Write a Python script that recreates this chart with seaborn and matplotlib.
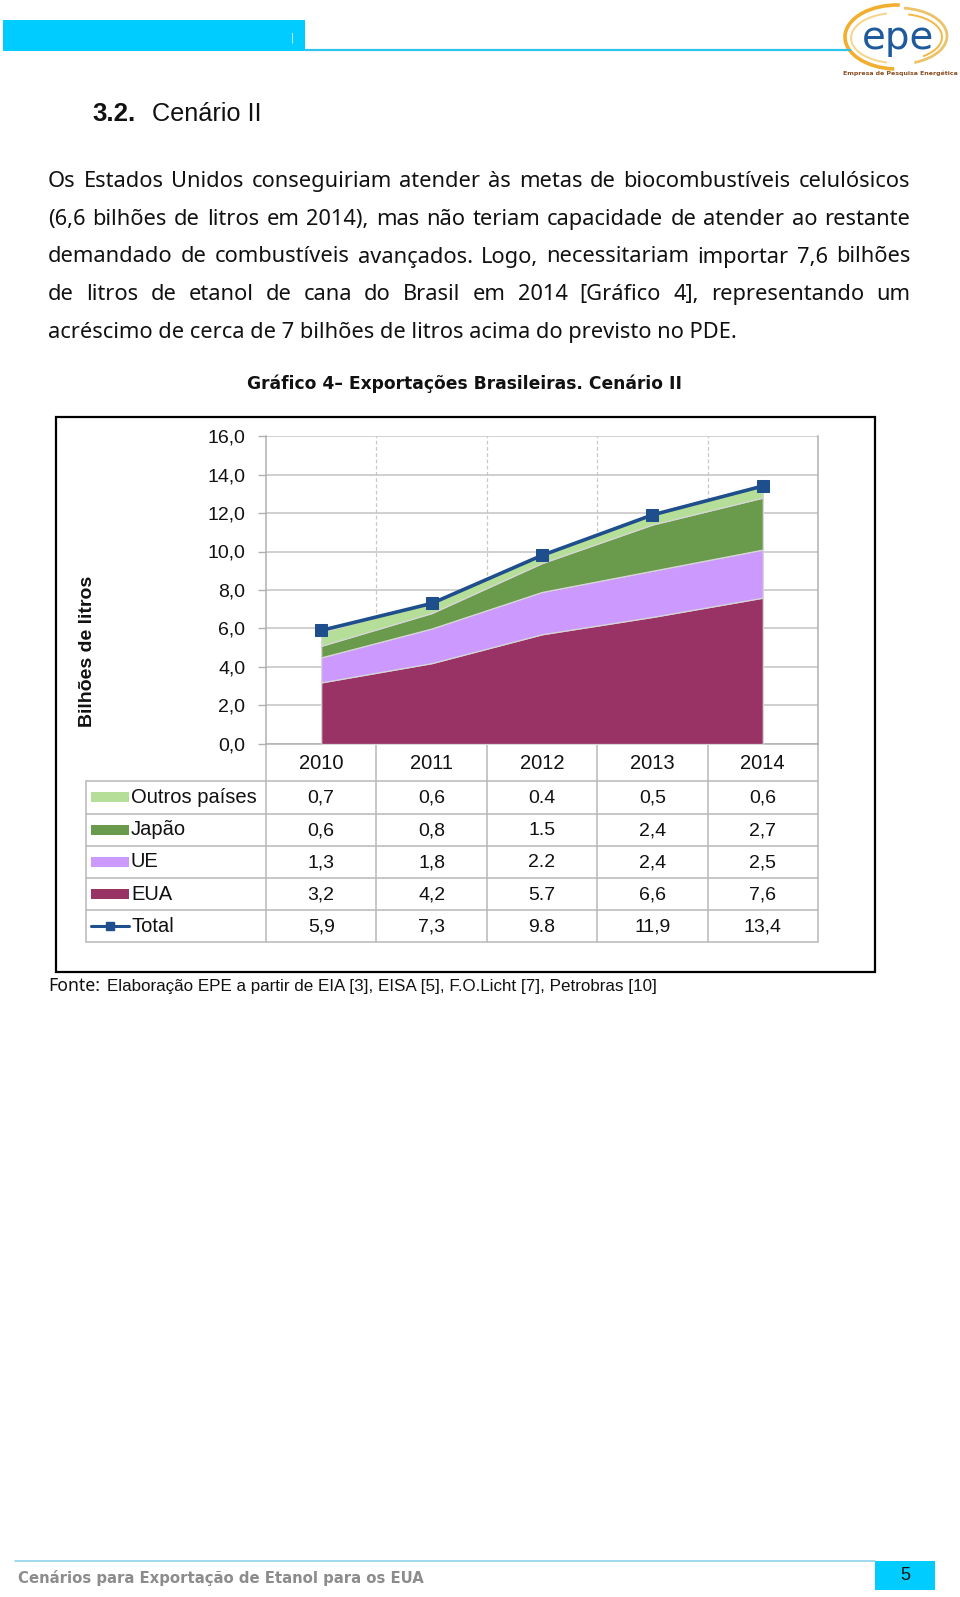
import matplotlib
matplotlib.use("Agg")
import matplotlib.pyplot as plt
import matplotlib.transforms as mtransforms
from matplotlib.patches import Rectangle, Arc
from matplotlib.lines import Line2D
import numpy as np
import pandas as pd
import seaborn as sns

# ---------------- data ----------------
years = ["2010", "2011", "2012", "2013", "2014"]
eua = [3.2, 4.2, 5.7, 6.6, 7.6]
ue = [1.3, 1.8, 2.2, 2.4, 2.5]
japao = [0.6, 0.8, 1.5, 2.4, 2.7]
outros = [0.7, 0.6, 0.4, 0.5, 0.6]
total = [5.9, 7.3, 9.8, 11.9, 13.4]
series_names = ["Outros países", "Japão", "UE", "EUA", "Total"]
decimal_sep = [",", ",", ".", ",", ","]   # as printed in the table columns
yticks = [0, 2, 4, 6, 8, 10, 12, 14, 16]
ytick_labels = ["0,0", "2,0", "4,0", "6,0", "8,0", "10,0", "12,0", "14,0", "16,0"]

col_eua = "#993366"
col_ue = "#CC99FF"
col_jap = "#6A9A4C"
col_out = "#B5DF98"
col_tot = "#1F4E8C"

sns.set_theme(style="white")
plt.rcParams["font.family"] = ["DejaVu Sans"]

W, H = 960, 1597
fig = plt.figure(figsize=(W / 100, H / 100), dpi=100)
fig.patch.set_facecolor("white")

bg = fig.add_axes([0, 0, 1, 1])
bg.set_xlim(0, W)
bg.set_ylim(H, 0)
bg.axis("off")
bg.set_zorder(0)

r = fig.canvas.get_renderer()
narrow = ["Liberation Sans Narrow", "Liberation Sans", "DejaVu Sans"]
doc_font = ["Noto Sans", "DejaVu Sans"]


def fit_text(x, y, s, width, size0=12, **kw):
    t = bg.text(x, y, s, fontsize=size0, **kw)
    w = t.get_window_extent(r).width
    t.set_fontsize(size0 * width / w)
    return t


# ---------------- header ----------------
bg.add_patch(Rectangle((3, 20), 302, 31, color="#00CCFF", lw=0))
bg.plot([305, 850], [49.5, 49.5], color="#2EC5EC", lw=1.6)
bg.text(292, 38, "|", color="white", fontsize=7, ha="center", va="center")

# logo
bg.add_patch(Arc((897, 37), 104, 64, theta1=95, theta2=275, color="#F2AE2E", lw=2.6))
bg.add_patch(Arc((899, 36), 96, 56, theta1=280, theta2=420, color="#EBC36A", lw=2.0))
bg.add_patch(Arc((896, 38), 90, 50, theta1=110, theta2=250, color="#F6D48A", lw=1.4))
bg.add_patch(Arc((900, 37), 84, 46, theta1=-70, theta2=40, color="#F3B845", lw=1.4))
fit_text(862, 38, "epe", 72, color="#1E5A9C", ha="left", va="center",
         family=["DejaVu Sans"])
fit_text(843, 73, "Empresa de Pesquisa Energética", 114, color="#8A4E22",
         ha="left", va="center", fontweight="bold")

# section heading
fit_text(92, 114, "3.2.", 43, color="#111111", ha="left", va="center",
         fontweight="bold", family=narrow)
fit_text(152, 114, "Cenário II", 110, color="#111111", ha="left", va="center",
         family=narrow)

# ---------------- paragraph (justified) ----------------
para_lines = [
    "Os Estados Unidos conseguiriam atender às metas de biocombustíveis celulósicos",
    "(6,6 bilhões de litros em 2014), mas não teriam capacidade de atender ao restante",
    "demandado de combustíveis avançados. Logo, necessitariam importar 7,6 bilhões",
    "de litros de etanol de cana do Brasil em 2014 [Gráfico 4], representando um",
    "acréscimo de cerca de 7 bilhões de litros acima do previsto no PDE.",
]
para_base = [187, 225, 262.5, 300, 338]
x_left, x_right = 48, 910
probe = bg.text(0, 0, para_lines[-1], fontsize=14, family=doc_font)
fs_par = 14 * (735 - 48) / probe.get_window_extent(r).width
probe.remove()
for i, (line, yy) in enumerate(zip(para_lines, para_base)):
    if i == len(para_lines) - 1:
        bg.text(x_left, yy, line, fontsize=fs_par, ha="left", va="baseline",
                color="#111111", family=doc_font)
        continue
    words = line.split(" ")
    objs = [bg.text(0, yy, w_, fontsize=fs_par, ha="left", va="baseline",
                    color="#111111", family=doc_font) for w_ in words]
    widths = [o.get_window_extent(r).width for o in objs]
    gap = (x_right - x_left - sum(widths)) / (len(words) - 1)
    xx = x_left
    for o, w_ in zip(objs, widths):
        o.set_x(xx)
        xx += w_ + gap

# chart title
fit_text(247, 384, "Gráfico 4– Exportações Brasileiras. Cenário II", 433,
         ha="left", va="center", fontweight="bold", color="#111111")

# chart frame
bg.add_patch(Rectangle((56, 417), 819, 555, fill=False, ec="black", lw=1.6))

# ---------------- chart ----------------
px_l, px_r, px_t, px_b = 266, 818, 436, 744
ax = fig.add_axes([px_l / W, 1 - px_b / H, (px_r - px_l) / W, (px_b - px_t) / H])
ax.set_zorder(2)
ax.patch.set_alpha(0)
xs = np.arange(len(years))
ax.stackplot(xs, eua, ue, japao, outros,
             colors=[col_eua, col_ue, col_jap, col_out],
             edgecolor="#D6D6D6", linewidth=0.9, zorder=3)
df_tot = pd.DataFrame({"x": xs, "total": total})
sns.lineplot(data=df_tot, x="x", y="total", ax=ax, color=col_tot, lw=2.6,
             marker="s", markersize=8, markeredgecolor=col_tot, zorder=5)
ax.set_xlim(-0.5, len(years) - 0.5)
ax.set_ylim(0, 16)
ax.set_yticks(yticks)
ax.set_yticklabels(ytick_labels, family=["Liberation Sans", "DejaVu Sans"],
                   fontsize=14, color="#111111")
ax.set_xticks([])
ax.set_xlabel("")
ax.set_ylabel("")
ax.tick_params(axis="y", length=6, width=1, color="#B0B0B0", pad=9, left=True)
ax.yaxis.grid(True, color="#C4C4C4", lw=1.1, zorder=0)
for xb in np.arange(0.5, len(years) - 0.5, 1):
    ax.axvline(xb, color="#C8C8C8", lw=0.9, ls=(0, (3, 2)), zorder=0)
for s in ["left", "right", "bottom"]:
    ax.spines[s].set_visible(True)
    ax.spines[s].set_color("#B0B0B0")
    ax.spines[s].set_linewidth(1.1)
ax.spines["top"].set_visible(False)

# y label
bg.text(88, 651, "Bilhões de litros", rotation=90, ha="center", va="center",
        fontsize=14, fontweight="bold", family=["Liberation Sans", "DejaVu Sans"],
        color="#111111")

# ---------------- data table ----------------
blend = mtransforms.blended_transform_factory(ax.transData, bg.transData)
tab_font = ["Liberation Sans", "DejaVu Sans"]
row_edges = [781, 813.5, 845.5, 878, 910, 942]
grid_c = "#B8B8B8"
for xb in np.arange(-0.5, len(years), 1):
    bg.add_line(Line2D([xb, xb], [px_b, row_edges[-1]], transform=blend,
                       color=grid_c, lw=1.1))
bg.plot([86, 86], [row_edges[0], row_edges[-1]], color=grid_c, lw=1.1)
for ye in row_edges:
    bg.plot([86, px_r], [ye, ye], color=grid_c, lw=1.1)
for i, yr in enumerate(years):
    bg.text(i, (px_b + row_edges[0]) / 2 + 1, yr, transform=blend, ha="center",
            va="center", fontsize=14.5, family=tab_font, color="#111111")
row_data = [outros, japao, ue, eua, total]
row_cols = [col_out, col_jap, col_ue, col_eua, col_tot]
for k, (name, vals, c) in enumerate(zip(series_names, row_data, row_cols)):
    yc = (row_edges[k] + row_edges[k + 1]) / 2
    if name == "Total":
        bg.plot([91, 129], [yc, yc], color=c, lw=2.2)
        bg.plot([110], [yc], marker="s", color=c, markersize=6)
    else:
        bg.add_patch(Rectangle((91, yc - 5), 38, 10, color=c, lw=0))
    bg.text(131, yc, name, ha="left", va="center", fontsize=14.5,
            family=tab_font, color="#111111")
    for i, v in enumerate(vals):
        lab = f"{v:.1f}".replace(".", decimal_sep[i])
        bg.text(i, yc + 1, lab, transform=blend, ha="center", va="center",
                fontsize=14, family=tab_font, color="#111111")

# source
fit_text(48, 986, "Fonte:", 52, ha="left", va="center", color="#111111",
         family=doc_font)
fit_text(107, 987, "Elaboração EPE a partir de EIA [3], EISA [5], F.O.Licht [7], Petrobras [10]",
         549, ha="left", va="center", color="#111111", family=narrow)

# ---------------- footer ----------------
bg.plot([15, 875], [1561, 1561], color="#8FD3EA", lw=1.2)
bg.add_patch(Rectangle((875, 1561), 60, 29, color="#00CCFF", lw=0))
bg.text(905, 1575, "5", ha="center", va="center", fontsize=13, color="#111111",
        family=narrow)
fit_text(18, 1578, "Cenários para Exportação de Etanol para os EUA", 405,
         ha="left", va="center", fontweight="bold", color="#8C8C8C",
         family=["DejaVu Sans"])

fig.savefig("out.png", dpi=100, facecolor="white")
